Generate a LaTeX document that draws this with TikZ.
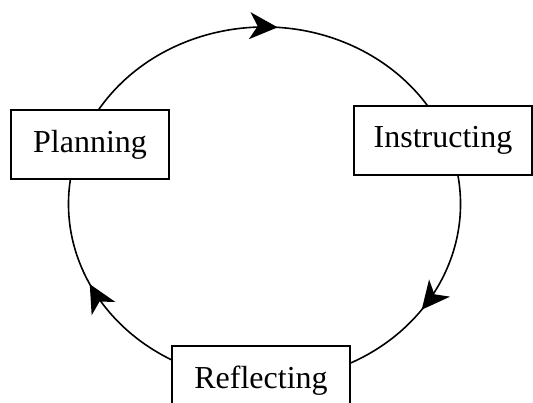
\documentclass[tikz,border=0pt]{standalone}
\usepackage{fontspec}
\setmainfont{Liberation Serif}
\usetikzlibrary{arrows.meta,decorations.markings}

\begin{document}
\begin{tikzpicture}[>={Stealth[length=28pt,width=27pt,inset=8pt]}, x=1pt, y=1pt, line width=1.6pt,
  stage/.style={draw, fill=white, minimum height=69pt, inner sep=0pt, font=\fontsize{32}{38}\selectfont},
  midarrow/.style={postaction={decorate},
    decoration={markings, mark=at position #1 with {\arrow{>}}}}]
  %================= Parameters (edit these) =================
  \def\rx{196}   % horizontal radius of the cycle
  \def\ry{177}   % vertical radius of the cycle
  \useasboundingbox (0,0) rectangle (533,402);
  \coordinate (c) at (264.5,198);

  % points on the cycle, hidden under the boxes
  \path (c) ++(150:{\rx} and {\ry}) coordinate (p1);
  \path (c) ++(12:{\rx} and {\ry})  coordinate (p2);
  \path (c) ++(245:{\rx} and {\ry}) coordinate (p3);

  %================= Cycle arcs =================
  \draw[midarrow=0.533] (p1) arc[start angle=150, end angle=30,  x radius=\rx, y radius=\ry];
  \draw[midarrow=0.58]  (p2) arc[start angle=12,  end angle=-70, x radius=\rx, y radius=\ry];
  \draw[midarrow=0.52]  (p3) arc[start angle=245, end angle=170, x radius=\rx, y radius=\ry];

  %================= Stages =================
  \node[stage, minimum width=158pt] (plan)  at (90,257.5)  {Planning};
  \node[stage, minimum width=178pt] (instr) at (443,261.5) {Instructing};
  \node[stage, minimum width=178pt] (refl)  at (261,21.5)  {Reflecting};
\end{tikzpicture}
\end{document}
